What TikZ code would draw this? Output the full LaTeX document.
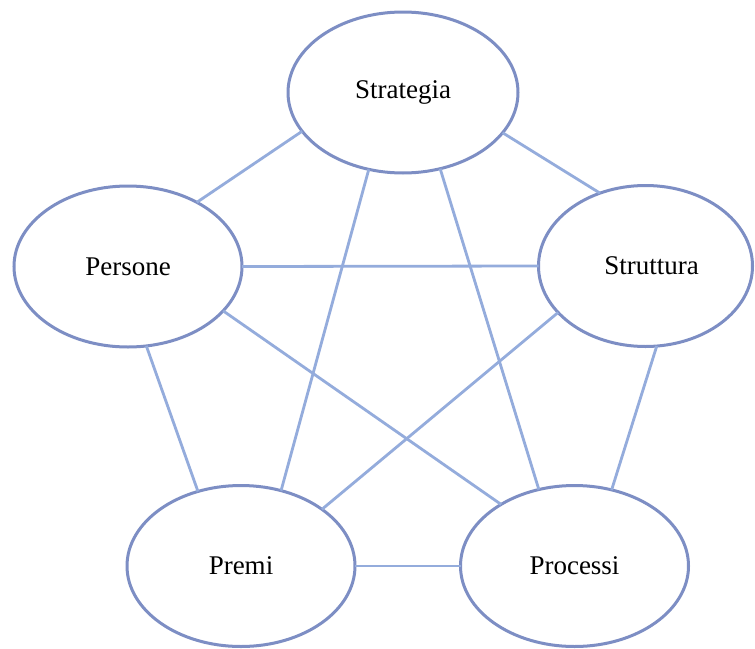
\documentclass[tikz,border=0pt]{standalone}
\usepackage{fontspec}
\setmainfont{Liberation Serif}
\usetikzlibrary{shapes.geometric}
\definecolor{ellcol}{RGB}{125,142,196}
\definecolor{linkcol}{RGB}{148,172,220}
\tikzset{
  bubble/.style={ellipse, draw=ellcol, line width=3pt, fill=white,
    inner sep=0pt, outer sep=0pt, minimum width=228pt, minimum height=161pt,
    font=\fontsize{27}{30}\selectfont},
  link/.style={draw=linkcol, line width=2.8pt}
}
\begin{document}
\begin{tikzpicture}[x=1pt,y=-1pt]
\useasboundingbox[fill=white] (0,0) rectangle (755,648);
\node[bubble, minimum width=230pt] (S) at (403,92.5) {Strategia};
\node[bubble] (P) at (128,266.5) {Persone};
\node[bubble, minimum width=214pt] (T) at (645.5,266) {\hspace*{12pt}Struttura};
\node[bubble] (M) at (241,566) {Premi};
\node[bubble] (R) at (574.5,566) {Processi};
\path[link] (S.201) -- (P.43.9);
\path[link] (S.338.8) -- (T.122.6);
\path[link] (S.246.8) -- (M.62.3);
\path[link] (S.296.1) -- (R.115.1);
\path[link] (P.east) -- (T.west);
\path[link] (P.283.1) -- (M.120.1);
\path[link] (P.335.8) -- (R.140.7);
\path[link] (T.208) -- (M.35.7);
\path[link] (T.278.7) -- (R.64.3);
\path[link] (M.east) -- (R.west);
\end{tikzpicture}
\end{document}
